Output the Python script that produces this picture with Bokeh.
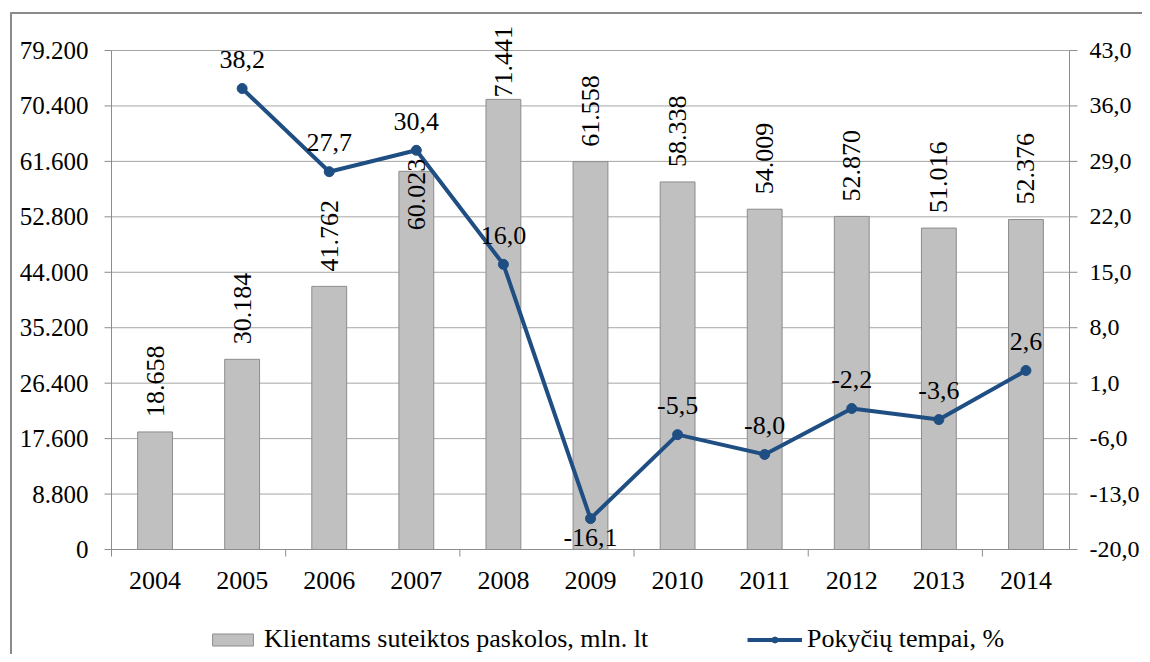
import math
from bokeh.plotting import figure
from bokeh.models import (ColumnDataSource, Range1d, LabelSet, Legend, LegendItem)
from bokeh.core.properties import value
from bokeh.embed import file_html
from bokeh.resources import INLINE

# ---------------- data ----------------
years = ["2004", "2005", "2006", "2007", "2008", "2009", "2010", "2011", "2012", "2013", "2014"]
loans = [18658, 30184, 41762, 60023, 71441, 61558, 58338, 54009, 52870, 51016, 52376]
rates = [float("nan"), 38.2, 27.7, 30.4, 16.0, -16.1, -5.5, -8.0, -2.2, -3.6, 2.6]

left_ticks = [0, 8800, 17600, 26400, 35200, 44000, 52800, 61600, 70400, 79200]
right_ticks = [-20, -13, -6, 1, 8, 15, 22, 29, 36, 43]

bar_name = "Klientams suteiktos paskolos, mln. lt"
line_name = "Pokyčių tempai, %"

# ---------------- style / layout ----------------
FONT = "Liberation Serif"
BAR_FILL = "#c0c0c0"
BAR_LINE = "#8c8c8c"
LINE_COL = "#1f4e83"
GRID_COL = "#a6a6a6"
AXIS_COL = "#8c8c8c"
FRAME_COL = "#8a8a8a"
TICK_FS = "25px"
RTICK_FS = "24px"
LABEL_FS = "26px"
W, H = 1142, 654
PL, PR, PT, PB = 111, 1069, 50, 549     # plot-area edges in pixels
LMAX, RMIN, RMAX = 79200, -20, 43
bar_label_offset_default = 15
bar_label_offset_px = {"2007": -59, "2008": 2}

def fmt_thousands(v):
    return f"{v:,}".replace(",", ".")

def fmt_dec(v):
    return f"{v:.1f}".replace(".", ",")

n = len(years)
ppx = (PR - PL) / n
ppy = (PB - PT) / LMAX
ppr = (PB - PT) / (RMAX - RMIN)

def px_x(px):
    return (px - PL) / ppx

def py_y(py):
    return (PB - py) / ppy

x_range = Range1d(px_x(0), px_x(W))
y_range = Range1d(py_y(H), py_y(0))
r_range = Range1d(RMIN - (H - PB) / ppr, RMAX + PT / ppr)

p = figure(width=W, height=H, output_backend="svg", toolbar_location=None,
           x_range=x_range, y_range=y_range,
           x_axis_location=None, y_axis_location=None,
           min_border=0, min_border_left=0, min_border_right=0,
           min_border_top=0, min_border_bottom=0,
           background_fill_color="white", border_fill_color="white")
p.outline_line_color = None
p.grid.visible = False
p.extra_y_ranges = {"rate": r_range}

# outer chart border (left and top visible)
p.segment(x0=[px_x(10.5), px_x(10)], y0=[py_y(12), py_y(12.5)],
          x1=[px_x(10.5), px_x(W)], y1=[py_y(H), py_y(12.5)],
          line_color=FRAME_COL, line_width=2)

# gridlines
p.segment(x0=[0] * len(left_ticks), x1=[n] * len(left_ticks), y0=left_ticks, y1=left_ticks,
          line_color=GRID_COL, line_width=1)

xs = [i + 0.5 for i in range(n)]

# bars
bar_src = ColumnDataSource(dict(
    x=xs, top=loans,
    label=[fmt_thousands(v) for v in loans],
    off=[bar_label_offset_px.get(y, bar_label_offset_default) for y in years],
))
bars = p.vbar(x="x", top="top", width=0.4, source=bar_src,
              fill_color=BAR_FILL, line_color=BAR_LINE, line_width=1)

# axis lines
p.segment(x0=[0, n, 0], x1=[0, n, n], y0=[0, 0, 0], y1=[LMAX, LMAX, 0],
          line_color=AXIS_COL, line_width=1)
# left ticks
p.segment(x0=[px_x(PL - 7)] * len(left_ticks), x1=[0] * len(left_ticks),
          y0=left_ticks, y1=left_ticks, line_color=AXIS_COL, line_width=1)
# right ticks
p.segment(x0=[n] * len(right_ticks), x1=[px_x(PR + 8)] * len(right_ticks),
          y0=right_ticks, y1=right_ticks, y_range_name="rate",
          line_color=AXIS_COL, line_width=1)
# bottom ticks (every second category boundary)
bt = list(range(0, n, 2))
p.segment(x0=bt, x1=bt, y0=[0] * len(bt), y1=[py_y(PB + 7)] * len(bt),
          line_color=AXIS_COL, line_width=1)

# line
line_src = ColumnDataSource(dict(x=xs, y=rates))
ln = p.line(x="x", y="y", source=line_src, y_range_name="rate",
            line_color=LINE_COL, line_width=4)
sc = p.scatter(x="x", y="y", source=line_src, y_range_name="rate",
               size=10, fill_color=LINE_COL, line_color=LINE_COL)

# bar labels (vertical)
p.add_layout(LabelSet(x="x", y="top", text="label", source=bar_src,
                      angle=math.pi / 2, text_align="left", text_baseline="middle",
                      y_offset="off", text_font=value(FONT), text_font_size=LABEL_FS,
                      text_color="#000000"))

# line labels
valid = [(x, r) for x, r in zip(xs, rates) if not math.isnan(r)]
rmin = min(r for _, r in valid)
line_lab_src = ColumnDataSource(dict(
    x=[x for x, _ in valid],
    y=[r for _, r in valid],
    label=[fmt_dec(r) for _, r in valid],
    off=[-19 if r == rmin else 29 for _, r in valid],
))
p.add_layout(LabelSet(x="x", y="y", text="label", source=line_lab_src, y_range_name="rate",
                      text_align="center", text_baseline="middle", y_offset="off",
                      text_font=value(FONT), text_font_size=LABEL_FS, text_color="#000000"))

# tick labels
left_src = ColumnDataSource(dict(x=[0] * len(left_ticks), y=left_ticks,
                                 t=[fmt_thousands(v) for v in left_ticks]))
p.add_layout(LabelSet(x="x", y="y", text="t", source=left_src, x_offset=-23,
                      text_align="right", text_baseline="middle",
                      text_font=value(FONT), text_font_size=TICK_FS, text_color="#000000"))
right_src = ColumnDataSource(dict(x=[n] * len(right_ticks), y=right_ticks,
                                  t=[fmt_dec(v) for v in right_ticks]))
p.add_layout(LabelSet(x="x", y="y", text="t", source=right_src, y_range_name="rate",
                      x_offset=20, text_align="left", text_baseline="middle",
                      text_font=value(FONT), text_font_size=RTICK_FS, text_color="#000000"))
bottom_src = ColumnDataSource(dict(x=xs, y=[0] * n, t=years))
p.add_layout(LabelSet(x="x", y="y", text="t", source=bottom_src, y_offset=-31,
                      text_align="center", text_baseline="middle",
                      text_font=value(FONT), text_font_size=LABEL_FS, text_color="#000000"))

# legends
common = dict(orientation="horizontal", padding=0, margin=0, border_line_color=None,
              background_fill_alpha=0, label_text_font=FONT, label_text_font_size=LABEL_FS,
              label_text_color="#000000", glyph_height=15)
leg1 = Legend(items=[LegendItem(label=bar_name, renderers=[bars])],
              location=(207, 0), glyph_width=51, label_standoff=6, **common)
leg2 = Legend(items=[LegendItem(label=line_name, renderers=[ln, sc])],
              location=(747, 0), glyph_width=55, label_standoff=5, **common)
p.add_layout(leg1, "center")
p.add_layout(leg2, "center")

open("out.html", "w").write(file_html(p, INLINE))
